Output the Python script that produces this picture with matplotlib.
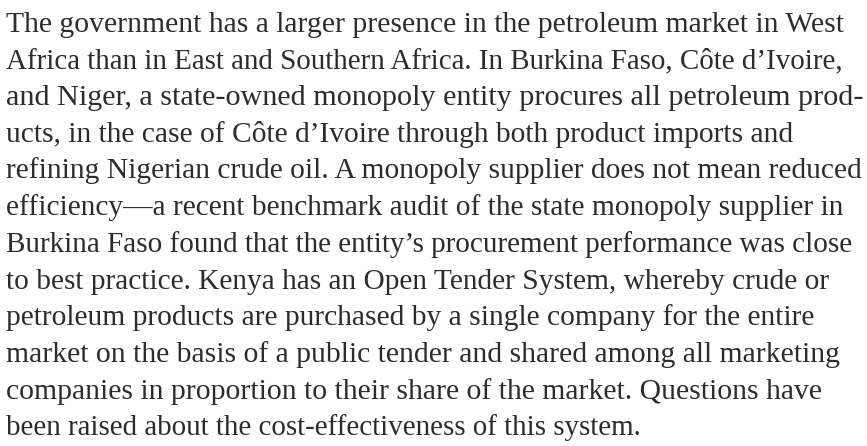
import matplotlib
matplotlib.use("Agg")
import matplotlib.pyplot as plt

lines = [
    "The government has a larger presence in the petroleum market in West",
    "Africa than in East and Southern Africa. In Burkina Faso, Côte d\u2019Ivoire,",
    "and Niger, a state-owned monopoly entity procures all petroleum prod-",
    "ucts, in the case of Côte d\u2019Ivoire through both product imports and",
    "refining Nigerian crude oil. A monopoly supplier does not mean reduced",
    "efficiency\u2014a recent benchmark audit of the state monopoly supplier in",
    "Burkina Faso found that the entity\u2019s procurement performance was close",
    "to best practice. Kenya has an Open Tender System, whereby crude or",
    "petroleum products are purchased by a single company for the entire",
    "market on the basis of a public tender and shared among all marketing",
    "companies in proportion to their share of the market. Questions have",
    "been raised about the cost-effectiveness of this system.",
]

# layout: approximate right edge (px) of each line in the reference
line_right_px = [839, 844, 862, 794, 860, 842, 852, 827, 814, 837, 819, 640]

W, H, DPI = 867, 446, 100
fig = plt.figure(figsize=(W / DPI, H / DPI), dpi=DPI)
fig.patch.set_facecolor("white")

x0 = 6
first_base = 31.7
step = 36.7
fs = 21
texts = []
for i, s in enumerate(lines):
    y = first_base + i * step
    t = fig.text(x0 / W, 1 - y / H, s, fontsize=fs, family="Liberation Serif",
                 color="#2e2b2c", ha="left", va="baseline")
    texts.append(t)

fig.canvas.draw()
r = fig.canvas.get_renderer()
# common size from the first line, then a gentle per-line adjustment
base_fs = fs * (line_right_px[0] - x0) / texts[0].get_window_extent(r).width
for t, right in zip(texts, line_right_px):
    w = t.get_window_extent(r).width
    f = fs * (right - x0) / w
    f = max(min(f, base_fs * 1.03), base_fs * 0.97)
    t.set_fontsize(f)

fig.savefig("out.png", dpi=DPI, facecolor="white")
